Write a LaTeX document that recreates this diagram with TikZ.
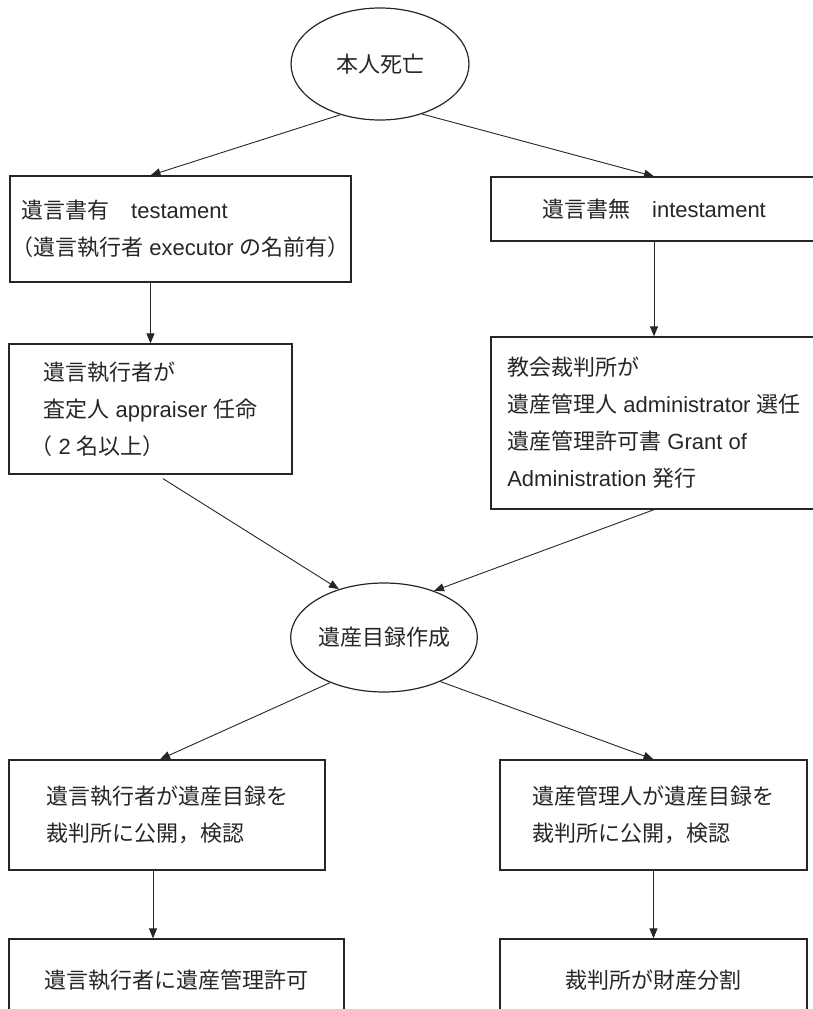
\documentclass[tikz,border=0pt]{standalone}
\usepackage{fontspec}
\setmainfont{Noto Sans CJK JP}
\newfontfamily\lat{Liberation Sans}
\usetikzlibrary{arrows.meta,shapes.geometric,calc}
\begin{document}
\begin{tikzpicture}[x=1pt,y=-1pt,
  every node/.style={font=\fontsize{22}{37}\selectfont, text=black!85},
  box/.style={draw=black!85, line width=1.3pt, rectangle, inner sep=0pt},
  oval/.style={draw=black!85, line width=1.2pt, ellipse, inner sep=0pt},
  conn/.style={draw=black!85, line width=0.9pt, -{Triangle[length=10pt,width=8pt]}},
]
\useasboundingbox (0,0) rectangle (813,1009);
\clip (0,0) rectangle (813,1009);

\node[oval, minimum width=178, minimum height=112] (top) at (380,64) {本人死亡};

\node[box, minimum width=341, minimum height=106, align=left] (b1) at (180.5,229)
  {\hspace*{10pt}遺言書有　{\lat testament}\\（遺言執行者{\lat\ executor\ }の名前有）};
\node[box, minimum width=326, minimum height=64] (b2) at (654,209)
  {遺言書無　{\lat intestament}};

\node[box, minimum width=283, minimum height=130, align=left] (b3) at (150.5,409)
  {遺言執行者が\\査定人{\lat\ appraiser\ }任命\\\hspace*{-13pt}（{\lat\ 2\ }名以上）};
\node[box, minimum width=326, minimum height=172, align=left] (b4) at (654,423)
  {教会裁判所が\\遺産管理人{\lat\ administrator\ }選任\\遺産管理許可書{\lat\ Grant of}\\{\lat Administration\ }発行};

\node[oval, minimum width=178, minimum height=109] (mid) at (384,637.5) {遺産目録作成};

\node[box, minimum width=316, minimum height=110, align=left] (b5) at (167,815)
  {遺言執行者が遺産目録を\\裁判所に公開，検認};
\node[box, minimum width=307, minimum height=110, align=left] (b6) at (653.5,815)
  {遺産管理人が遺産目録を\\裁判所に公開，検認};

\node[box, minimum width=335, minimum height=82] (b7) at (176.5,980) {遺言執行者に遺産管理許可};
\node[box, minimum width=307, minimum height=82] (b8) at (653.5,980) {裁判所が財産分割};

\draw[conn] (top.232) -- (b1.north -| b3.north);
\draw[conn] (top.310) -- (b2.north);
\draw[conn] (b1.south -| b3.north) -- (b3.north);
\draw[conn] (b2.south) -- (b4.north);
\coordinate (s3) at ($(b3.south)+(12.5,4)$);
\draw[conn] (s3) -- (mid.133);
\draw[conn] (b4.south) -- (mid.43);
\coordinate (t5) at ($(b5.north)+(-7,0)$);
\draw[conn] (mid.220) -- (t5);
\draw[conn] (mid.322) -- (b6.north);
\coordinate (c57) at ($(b5.south)+(-14,0)$);
\draw[conn] (c57) -- (c57 |- b7.north);
\draw[conn] (b6.south) -- (b8.north);
\end{tikzpicture}
\end{document}
